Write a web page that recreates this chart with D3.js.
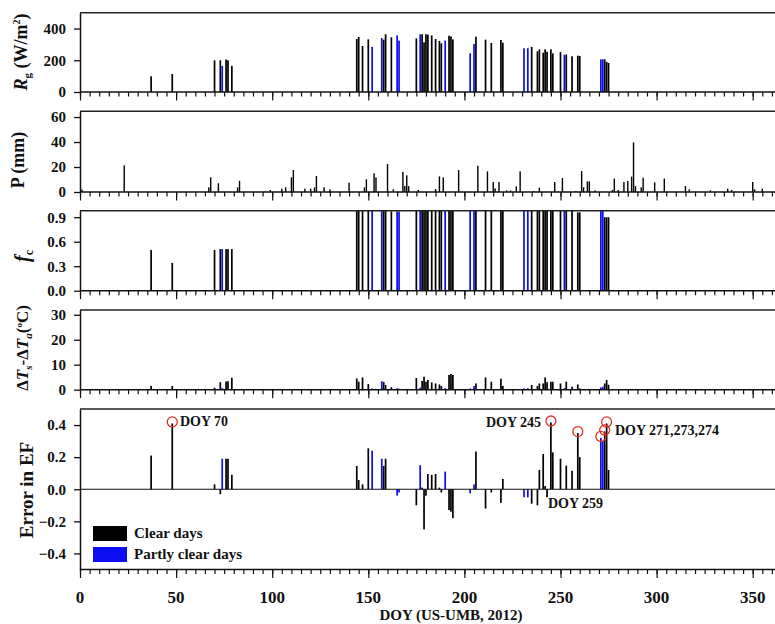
<!DOCTYPE html>
<html>
<head>
<meta charset="utf-8">
<script src="https://cdn.jsdelivr.net/npm/d3@7"></script>
<style>
  body { margin: 0; background: #fff; }
  svg text { font-family: "Liberation Serif", "DejaVu Serif", serif; font-weight: bold; fill: #111; }
</style>
</head>
<body>
<div id="chart"></div>
<script>
// days used in the comparison (DOY), C = clear, P = partly clear
var dayDoy = [37, 48, 70, 73, 74, 76, 77, 79, 144, 145,
              147, 150, 152, 157, 158, 159, 162, 165, 166, 175,
              177, 178, 179, 180, 181, 183, 185, 187, 188, 190,
              192, 193, 194, 203, 205, 206, 211, 214, 219, 220,
              231, 233, 235, 238, 239, 241, 242, 243, 245, 246,
              250, 252, 253, 256, 259, 260, 271, 272, 273, 274,
              275];
var dayKind = ['C','C','C','C','P','C','C','C','C','C',
               'C','C','P','P','C','C','C','P','P','C',
               'P','C','C','C','C','C','C','C','C','P',
               'C','C','C','P','P','C','C','C','C','C',
               'P','P','C','C','C','C','C','C','C','C',
               'C','P','C','C','C','C','P','P','C','C',
               'C'];
var rgVals = [99, 113, 200, 200, 165, 205, 200, 165, 334, 347,
              290, 332, 284, 340, 330, 364, 345, 357, 324, 338,
              364, 364, 313, 364, 362, 357, 334, 322, 307, 324,
              355, 350, 332, 244, 303, 349, 330, 309, 328, 311,
              276, 276, 284, 257, 269, 248, 269, 254, 269, 244,
              252, 235, 237, 225, 229, 227, 206, 206, 206, 190,
              183];
var fcVals = [0.50, 0.34, 0.50, 0.51, 0.51, 0.51, 0.51, 0.51, 1, 1,
              1, 1, 1, 1, 1, 1, 0.97, 0.97, 0.97, 1,
              1, 1, 1, 1, 1, 1, 1, 1, 1, 1,
              1, 1, 1, 1, 1, 1, 1, 1, 1, 1,
              1, 1, 1, 1, 1, 1, 1, 1, 1, 1,
              1, 1, 1, 1, 0.96, 0.96, 1, 1, 0.9, 0.9,
              0.9];
var dtVals = [1.5, 1.5, 0.8, 3.0, 0.6, 3.3, 3.4, 4.8, 4.5, 3.2,
              4.9, 2.3, 0.5, 3.4, 3.1, 1.9, 1.0, 0.6, 0.4, 4.7,
              0.8, 3.5, 5.2, 3.2, 3.9, 2.9, 2.5, 2.1, 1.5, 0.6,
              5.9, 6.3, 5.9, 0.5, 1.5, 2.5, 4.9, 3.2, 4.4, 1.5,
              0.5, 0.6, 1.9, 1.5, 2.5, 2.5, 4.9, 3.0, 3.2, 3.2,
              2.5, 0.6, 3.2, 1.2, 2.1, 0.5, 0.9, 1.2, 2.5, 3.9,
              2.0];
var errVals = [0.21, 0.41, 0.03, -0.03, 0.19, 0.19, 0.19, 0.09, 0.145, 0.058,
               0.03, 0.255, 0.24, 0.19, 0.145, 0.19, 0, -0.04, -0.02, -0.10,
               0.15, 0.01, -0.25, -0.04, 0.095, 0.09, 0.095, 0.01, -0.02, 0.11,
               -0.13, -0.14, -0.18, -0.025, 0.03, 0.235, -0.12, -0.02, -0.085, 0.064,
               -0.05, -0.05, -0.09, -0.10, 0.12, 0.22, 0.02, -0.05, 0.416, 0.23,
               0.19, 0, 0.147, 0.115, 0.35, 0.2, 0.32, 0.3, 0.36, 0.41,
               0.12];

// daily precipitation
var rainDoy = [1, 23, 67, 68, 72, 82, 83, 99, 105, 107,
               110, 111, 117, 120, 122, 123, 127, 130, 140, 148,
               149, 153, 154, 160, 163, 168, 169, 170, 171, 176,
               185, 187, 189, 197, 207, 212, 215, 216, 218, 222,
               224, 227, 229, 236, 239, 247, 251, 258, 261, 262,
               264, 265, 268, 277, 278, 280, 283, 285, 287, 288,
               289, 292, 293, 299, 304, 315, 317, 328, 337, 339,
               350, 351, 355];
var rainMm = [2, 21.3, 3.7, 11.7, 7, 3.7, 9, 1.6, 2.7, 3.7,
              11.7, 17.6, 2.7, 2.7, 3.7, 12.8, 3.7, 2.1, 7.5, 3.7,
              10.1, 15, 11.7, 22.4, 2.1, 16, 4.8, 13.3, 4.8, 1.6,
              2.4, 12.5, 11.7, 17.6, 21, 16.5, 8, 2.9, 8, 1.3,
              1.3, 4.5, 16.5, 0.8, 3.5, 8, 11.2, 0.8, 16.8, 3.7,
              8.5, 8.5, 1.3, 1.6, 10.7, 1.6, 8, 8.8, 12.3, 39.7,
              4.8, 3.7, 11.5, 7.7, 10.7, 4.8, 2.1, 1.3, 2.7, 1.6,
              8, 2.1, 2.7];

var circledDoy = [48, 245, 259, 271, 273, 274];

// tick labels
var xTicks = [0, 50, 100, 150, 200, 250, 300, 350];
var rgTicks = [0, 200, 400];
var pTicks = [0, 20, 40, 60];
var fcTicks = [0, 0.3, 0.6, 0.9];
var dtTicks = [0, 10, 20, 30];
var errTicks = [-0.4, -0.2, 0, 0.2, 0.4];

var legendLabels = ['Clear days', 'Partly clear days'];

var W = 775, H = 624;
var left = 80, right = 775;
var BLACK = '#000', BLUE = '#0d0df2';
var barW = 1.7;

var svg = d3.select('#chart').append('svg')
    .attr('width', W).attr('height', H);

var x = d3.scaleLinear().domain([0, 365]).range([left, left + 365 * 1.922]);

var panels = [
  {top: 12.7, bottom: 92, domain: [0, 500], ticks: rgTicks, fmt: d3.format('d'), vals: rgVals},
  {top: 111.3, bottom: 192, domain: [0, 64.6], ticks: pTicks, fmt: d3.format('d'), vals: null},
  {top: 210.7, bottom: 290.7, domain: [0, 0.98], ticks: fcTicks, fmt: d3.format('.1f'), vals: fcVals},
  {top: 310, bottom: 389.7, domain: [0, 31.9], ticks: dtTicks, fmt: d3.format('d'), vals: dtVals},
  {top: 409, bottom: 569.5, domain: [-0.5, 0.5], ticks: errTicks, fmt: d3.format('.1f'), vals: errVals}
];

function colorOf(i) { return dayKind[i] === 'P' ? BLUE : BLACK; }

panels.forEach(function(p, k) {
  var y = d3.scaleLinear().domain(p.domain).range([p.bottom, p.top]).clamp(true);
  p.y = y;
  var g = svg.append('g');

  // bars
  if (p.vals) {
    g.selectAll('rect.bar').data(dayDoy).enter().append('rect')
      .attr('class', 'bar')
      .attr('x', function(d) { return x(d) - barW / 2; })
      .attr('width', barW)
      .attr('y', function(d, i) { return Math.min(y(0), y(p.vals[i])); })
      .attr('height', function(d, i) { return Math.abs(y(0) - y(p.vals[i])); })
      .attr('fill', function(d, i) { return colorOf(i); });
  } else {
    g.selectAll('rect.bar').data(rainDoy).enter().append('rect')
      .attr('class', 'bar')
      .attr('x', function(d) { return x(d) - 0.7; })
      .attr('width', 1.4)
      .attr('y', function(d, i) { return y(rainMm[i]); })
      .attr('height', function(d, i) { return y(0) - y(rainMm[i]); })
      .attr('fill', BLACK);
  }

  // top frame line
  g.append('line')
    .attr('x1', left).attr('x2', right)
    .attr('y1', p.top).attr('y2', p.top)
    .attr('stroke', '#222').attr('stroke-width', 1.6);

  // bottom line with DOY ticks
  var base = p.bottom;
  g.append('line')
    .attr('x1', left).attr('x2', right)
    .attr('y1', base).attr('y2', base)
    .attr('stroke', '#111').attr('stroke-width', 1.4);
  if (k === 4) {
    g.append('line')
      .attr('x1', left).attr('x2', right)
      .attr('y1', y(0)).attr('y2', y(0))
      .attr('stroke', '#111').attr('stroke-width', 1.2);
  }
  var minor = d3.axisBottom(x).tickValues(d3.range(0, 366, 5)).tickSize(4.5).tickFormat('');
  var major = d3.axisBottom(x).tickValues(xTicks).tickSize(8.5).tickFormat('');
  [minor, major].forEach(function(ax) {
    var a = g.append('g').attr('transform', 'translate(0,' + base + ')').call(ax);
    a.select('.domain').remove();
    a.selectAll('line').attr('stroke', '#111').attr('stroke-width', 1.2);
  });

  // left axis
  var ya = g.append('g').attr('transform', 'translate(' + left + ',0)')
    .call(d3.axisLeft(y).tickValues(p.ticks).tickFormat(p.fmt).tickSize(6).tickSizeOuter(0).tickPadding(8));
  ya.select('.domain').attr('stroke', '#111').attr('stroke-width', 1.5);
  ya.selectAll('line').attr('stroke', '#111').attr('stroke-width', 1.3);
  ya.selectAll('text')
    .style('font-family', '"Liberation Serif", serif')
    .style('font-weight', 'bold')
    .style('font-size', '15px')
    .attr('fill', '#111');
});

// x tick labels and title
svg.append('g').selectAll('text').data(xTicks).enter().append('text')
  .attr('x', function(d) { return x(d); })
  .attr('y', 603)
  .attr('text-anchor', 'middle')
  .style('font-size', '17px')
  .text(function(d) { return d; });

svg.append('text')
  .attr('x', 451).attr('y', 620)
  .attr('text-anchor', 'middle')
  .style('font-size', '15px')
  .text('DOY (US-UMB, 2012)');

// y titles
function yTitle(cx, cy, parts, size) {
  var t = svg.append('text')
    .attr('transform', 'translate(' + cx + ',' + cy + ') rotate(-90)')
    .attr('text-anchor', 'middle')
    .style('font-size', size + 'px');
  parts.forEach(function(s) {
    var ts = t.append('tspan').text(s.t);
    if (s.i) ts.style('font-style', 'italic');
    if (s.dy) ts.attr('dy', s.dy);
    if (s.fs) ts.style('font-size', s.fs + 'px');
  });
}
yTitle(27, 52, [{t: 'R', i: 1}, {t: 'g', fs: 11, dy: 4}, {t: ' (W/m', dy: -4}, {t: '2', fs: 10, dy: -7}, {t: ')', dy: 7}], 18);
yTitle(24, 160, [{t: 'P (mm)'}], 18);
yTitle(29, 256, [{t: 'f', i: 1}, {t: 'c', fs: 12, dy: 4}], 20);
yTitle(28, 348, [{t: 'Δ'}, {t: 'T', i: 1}, {t: 's', i: 1, fs: 11, dy: 4}, {t: '-Δ', dy: -4}, {t: 'T', i: 1}, {t: 'a', i: 1, fs: 11, dy: 4},
                 {t: '(', dy: -4}, {t: 'o', fs: 9, dy: -6}, {t: 'C)', dy: 6}], 17);
yTitle(33, 490, [{t: 'Error in EF'}], 19);

// circles and annotations on the error panel
var ye = panels[4].y;
svg.append('g').selectAll('circle').data(circledDoy).enter().append('circle')
  .attr('cx', function(d) { return x(d); })
  .attr('cy', function(d) { return ye(errVals[dayDoy.indexOf(d)]) - 1.5; })
  .attr('r', 5)
  .attr('fill', 'none')
  .attr('stroke', '#e0302a')
  .attr('stroke-width', 1.3);

var notes = [
  {t: 'DOY 70', x: 180, y: 426, a: 'start'},
  {t: 'DOY 245', x: 541, y: 427, a: 'end'},
  {t: 'DOY 271,273,274', x: 615, y: 435, a: 'start'},
  {t: 'DOY 259', x: 548, y: 508, a: 'start'}
];
svg.append('g').selectAll('text').data(notes).enter().append('text')
  .attr('x', function(d) { return d.x; })
  .attr('y', function(d) { return d.y; })
  .attr('text-anchor', function(d) { return d.a; })
  .style('font-size', '14px')
  .text(function(d) { return d.t; });

// legend
var lg = svg.append('g').attr('transform', 'translate(93,526)');
lg.selectAll('rect').data(legendLabels).enter().append('rect')
  .attr('x', 0).attr('y', function(d, i) { return i * 21; })
  .attr('width', 34).attr('height', 15)
  .attr('fill', function(d, i) { return i ? BLUE : BLACK; });
lg.selectAll('text').data(legendLabels).enter().append('text')
  .attr('x', 41).attr('y', function(d, i) { return 12 + i * 21; })
  .style('font-size', '15px')
  .text(function(d) { return d; });
</script>
</body>
</html>
